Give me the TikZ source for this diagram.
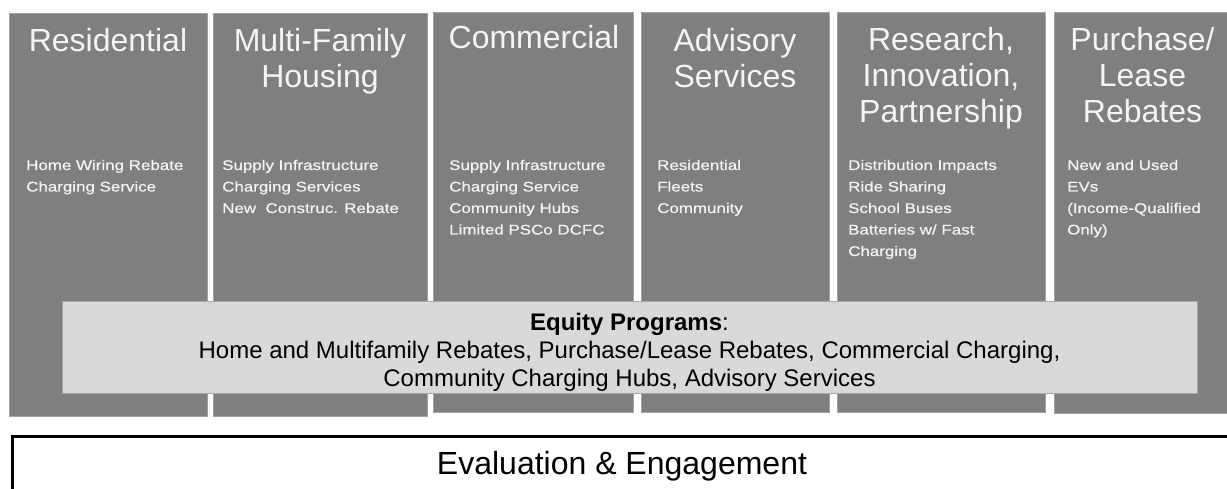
\documentclass[tikz,border=0pt]{standalone}
\usepackage{fontspec}
\setmainfont{Liberation Sans}
\newfontfamily\listfont[FakeStretch=1.21,FakeBold=0.6]{Liberation Sans}
\definecolor{colfill}{HTML}{7F7F7F}
\definecolor{colline}{HTML}{A3A3A3}
\definecolor{coltext}{HTML}{F4F4F4}
\definecolor{eqfill}{HTML}{D9D9D9}
\definecolor{eqline}{HTML}{A8A8A8}
% multi-line nodes sit on the baseline of their last line
\tikzset{
  column/.style={draw=colline, line width=0.8pt, fill=colfill, anchor=north west, inner sep=0pt, minimum width=#1},
  coltitle/.style={anchor=base, align=center, inner sep=0pt, text=coltext,
    font=\fontsize{32}{36}\selectfont},
  collist/.style={anchor=base west, align=left, inner sep=0pt, text=coltext,
    font=\listfont\fontsize{14}{21.5}\selectfont},
  equitybox/.style={draw=eqline, line width=0.8pt, fill=eqfill, anchor=north west, inner sep=0pt},
  equitytext/.style={anchor=base, align=center, inner sep=0pt,
    font=\fontsize{24}{28.3}\selectfont},
  evalbox/.style={draw=black, line width=3pt, fill=white, anchor=north west, inner sep=0pt},
  evaltext/.style={anchor=base, inner sep=0pt, font=\fontsize{32}{36}\selectfont}
}
\begin{document}
\begin{tikzpicture}[x=1pt,y=-1pt]
\useasboundingbox (0,0) rectangle (1227,489);
% program columns
\node[column=198pt, minimum height=403pt] (res) at (9,13) {};
\node[column=214pt, minimum height=403pt] (mfh) at (213,13) {};
\node[column=200pt, minimum height=400pt] (com) at (433,12) {};
\node[column=188pt, minimum height=400pt] (adv) at (641,12) {};
\node[column=208pt, minimum height=400pt] (rip) at (837,12) {};
\node[column=180pt, minimum height=401pt] (plr) at (1054,12) {};
% column headings
\node[coltitle] (resT) at (108,52) {Residential};
\node[coltitle] (mfhT) at (320,88) {Multi-Family\\Housing};
\node[coltitle] (comT) at (534,48.5) {Commercial};
\node[coltitle] (advT) at (735,88) {Advisory\\Services};
\node[coltitle] (ripT) at (941,123) {Research,\\Innovation,\\Partnership};
\node[coltitle] (plrT) at (1142.5,123) {Purchase/\\Lease\\Rebates};
% column items
\node[collist] (resL) at (26,191.5) {Home Wiring Rebate\\Charging Service};
\node[collist] (mfhL) at (222,213) {Supply Infrastructure\\Charging Services\\New\ \ Construc. Rebate};
\node[collist] (comL) at (449,234.5) {Supply Infrastructure\\Charging Service\\Community Hubs\\Limited PSCo DCFC};
\node[collist] (advL) at (657,213) {Residential\\Fleets\\Community};
\node[collist] (ripL) at (848,256) {Distribution Impacts\\Ride Sharing\\School Buses\\Batteries w/ Fast\\Charging};
\node[collist] (plrL) at (1067,234.5) {New and Used\\EVs\\(Income-Qualified\\Only)};
% equity band across the columns
\node[equitybox, minimum width=1135pt, minimum height=92pt] (eq) at (62,301) {};
\node[equitytext] (eqT) at (629.5,386.6) {\textbf{Equity Programs}:\\Home and Multifamily Rebates, Purchase/Lease Rebates, Commercial Charging,\\Community Charging Hubs, Advisory Services};
% evaluation bar
\node[evalbox, minimum width=1240pt, minimum height=100pt] (ev) at (10.5,435) {};
\node[evaltext] (evT) at (622,474) {Evaluation \& Engagement};
\end{tikzpicture}
\end{document}
